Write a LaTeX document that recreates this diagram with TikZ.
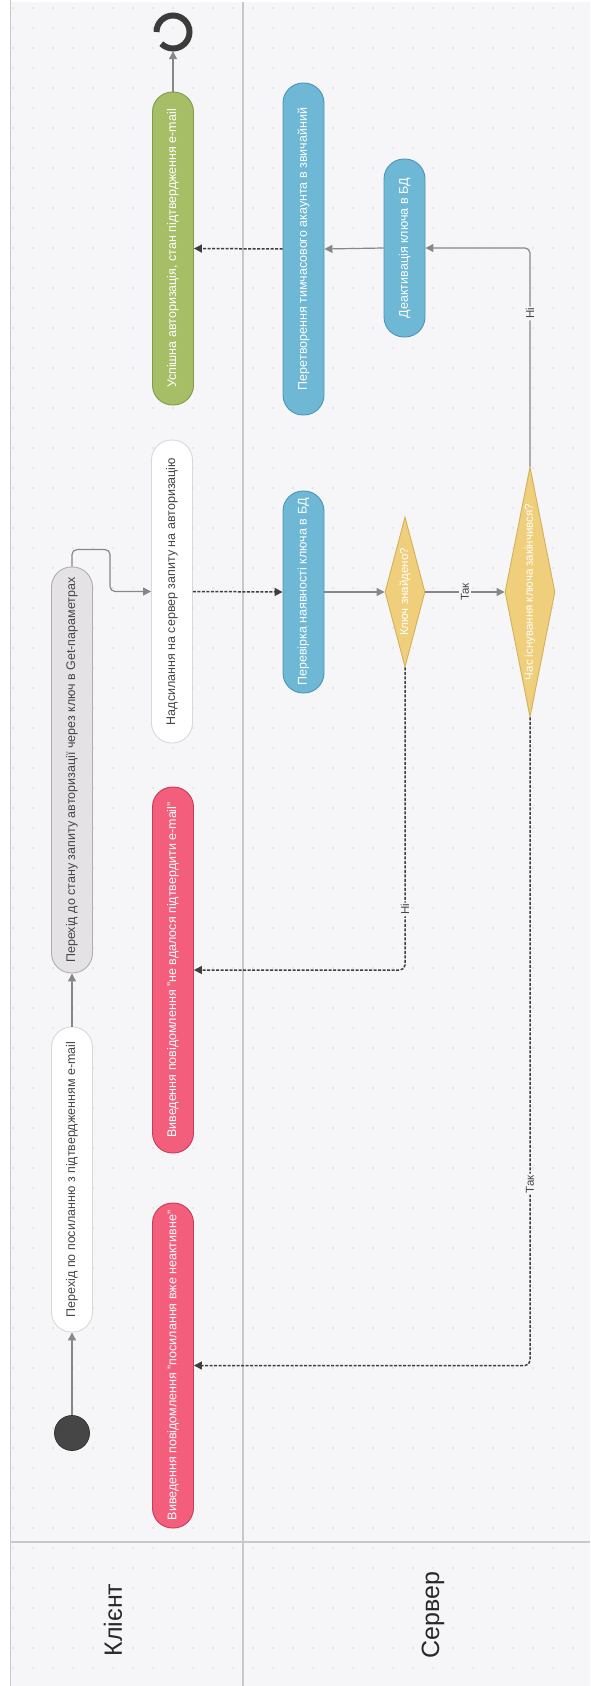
\documentclass[tikz,border=0pt]{standalone}
\usepackage{fontspec}
\setmainfont{Liberation Sans}
\usepackage{graphicx}
\usetikzlibrary{shapes.geometric,arrows.meta,calc}
\definecolor{bgc}{RGB}{246,246,248}
\definecolor{dotc}{RGB}{214,214,220}
\definecolor{lanec}{RGB}{200,200,204}
\definecolor{greenf}{RGB}{166,191,103}
\definecolor{greenb}{RGB}{128,155,72}
\definecolor{bluef}{RGB}{110,184,214}
\definecolor{blueb}{RGB}{76,148,180}
\definecolor{pinkf}{RGB}{243,94,124}
\definecolor{pinkb}{RGB}{200,58,88}
\definecolor{greyf}{RGB}{228,226,229}
\definecolor{greyb}{RGB}{176,173,177}
\definecolor{whiteb}{RGB}{216,216,220}
\definecolor{yelf}{RGB}{240,207,124}
\definecolor{yelb}{RGB}{212,176,88}
\definecolor{startc}{RGB}{70,70,70}
\definecolor{linec}{RGB}{135,135,135}
\definecolor{dashc}{RGB}{62,62,62}
\definecolor{txtc}{RGB}{70,70,70}
\definecolor{headc}{RGB}{40,40,40}
\begin{document}
\begin{tikzpicture}[x=1pt,y=-1pt,
  actbox/.style={draw, line width=0.9pt, rounded corners=20pt, minimum width=41pt, inner sep=0pt, font=\fontsize{12.5}{15}\selectfont},
  greenbox/.style={actbox, fill=greenf, draw=greenb, text=white},
  bluebox/.style={actbox, fill=bluef, draw=blueb, text=white},
  pinkbox/.style={actbox, fill=pinkf, draw=pinkb, text=white},
  greybox/.style={actbox, fill=greyf, draw=greyb, text=txtc},
  whitebox/.style={actbox, fill=white, draw=whiteb, text=txtc},
  decbox/.style={diamond, draw=yelb, fill=yelf, line width=0.9pt, inner sep=0pt},
  dectext/.style={text=white, font=\fontsize{11.5}{13}\selectfont, inner sep=0pt},
  solidarr/.style={draw=linec, line width=1.2pt, -{Triangle[length=8pt,width=8pt]}},
  dasharr/.style={draw=dashc, line width=1.5pt, dash pattern=on 3pt off 1.5pt, -{Triangle[length=8pt,width=8pt]}},
  lbl/.style={fill=bgc, inner sep=1.5pt, text=txtc, font=\fontsize{11.5}{13}\selectfont, rotate=90},
  headtext/.style={rotate=90, text=headc, font=\fontsize{25}{29}\selectfont}
]
\useasboundingbox (0,0) rectangle (590,1686);
\fill[white] (0,0) rectangle (590,1686);
\fill[bgc] (10,2) rectangle (590,1686);
\foreach \i in {0,...,28}{
  \foreach \j in {0,...,84}{
    \fill[dotc] (13+20*\i,8+20*\j) circle (0.9);
  }
}
\draw[lanec, line width=0.8pt] (10,0) -- (10,1686);
\draw[lanec, line width=1.5pt] (243,2) -- (243,1686);
\draw[lanec, line width=1.5pt] (10,1542) -- (590,1542);

% lane headers
\node[headtext] (hclient) at (113,1620) {Клієнт};
\node[headtext] (hserver) at (433,1615) {Сервер};

% client nodes
\node[circle, fill=startc, draw=black!80, line width=0.8pt, minimum size=35pt, inner sep=0pt] (start) at (72,1433) {};
\node[whitebox, minimum height=305pt] (follow) at (72,1179.5) {\rotatebox{90}{Перехід по посиланню з підтвердженням e-mail}};
\node[greybox, minimum height=406pt] (state) at (72,770) {\rotatebox{90}{Перехід до стану запиту авторизації через ключ в Get-параметрах}};
\node[whitebox, minimum height=303pt] (send) at (172,591.5) {\rotatebox{90}{Надсилання на сервер запиту на авторизацію}};
\node[pinkbox, minimum height=366pt] (failmsg) at (173,970) {\rotatebox{90}{Виведення повідомлення "не вдалося підтвердити e-mail"}};
\node[pinkbox, minimum height=325pt] (inactmsg) at (173,1365.5) {\rotatebox{90}{Виведення повідомлення "посилання вже неактивне"}};
\node[greenbox, minimum height=313pt] (success) at (173,248.5) {\rotatebox{90}{Успішна авторизація, стан підтвердження e-mail}};
\node[circle, minimum size=38pt, inner sep=0pt] (end) at (173,32) {};
\draw[startc!85!black, line width=6pt] ($(end.center)+(-16.5,0)$) arc (180:495:16.5);

% server nodes
\node[bluebox, minimum height=202pt] (check) at (303.5,592) {\rotatebox{90}{Перевірка наявності ключа в БД}};
\node[bluebox, minimum height=332pt] (convert) at (303.5,249) {\rotatebox{90}{Перетворення тимчасового акаунта в звичайний}};
\node[bluebox, minimum height=178pt] (deact) at (404.5,248) {\rotatebox{90}{Деактивація ключа в БД}};
\node[decbox, minimum width=40pt, minimum height=150pt] (found) at (405,592) {};
\node[dectext] (foundt) at (found.center) {\rotatebox{90}{Ключ знайдено?}};
\node[decbox, minimum width=50pt, minimum height=250pt] (expired) at (530,592) {};
\node[dectext] (expiredt) at (expired.center) {\rotatebox{90}{Час існування ключа закінчився?}};

% connectors
\draw[solidarr] (start.north) -- (follow.south);
\draw[solidarr] (follow.north) -- (state.south);
\draw[solidarr, rounded corners=5pt] (state.north) -- ++(0,-17) -| ($(send.west)+(-41,0)$) -- (send.west);
\draw[dasharr] (send.east) -- (check.west);
\draw[solidarr] (check.east) -- (found.west);
\draw[solidarr] (found.east) -- node[lbl] (yes1) {Так} (expired.west);
\draw[solidarr, rounded corners=5pt] (expired.north) |- node[lbl, pos=0.35] (no2) {Ні} (deact.east);
\draw[solidarr] (deact.west) -- (convert.east);
\draw[dasharr] (convert.west) -- (success.east);
\draw[solidarr] (success.north) -- (end.south);
\draw[dasharr, rounded corners=5pt] (found.south) |- node[lbl, pos=0.4] (no1) {Ні} (failmsg.east);
\draw[dasharr, rounded corners=5pt] (expired.south) |- node[lbl, pos=0.36] (yes2) {Так} (inactmsg.east);
\end{tikzpicture}
\end{document}
